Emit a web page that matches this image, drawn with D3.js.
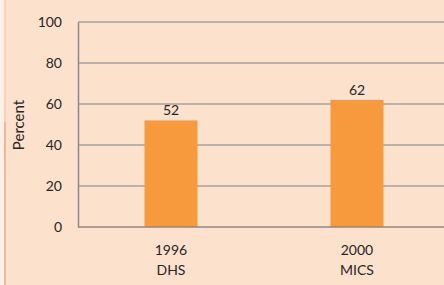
<!DOCTYPE html>
<html>
<head>
<meta charset="utf-8">
<script src="https://cdn.jsdelivr.net/npm/d3@7"></script>
<style>
  body { margin: 0; background: #fff; }
  svg { display: block; font-family: Lato, "Open Sans", sans-serif; }
</style>
</head>
<body>
<svg id="chart" width="444" height="285"></svg>
<script>
// chart data
const years = ["1996", "2000"];
const surveys = ["DHS", "MICS"];
const values = [52, 62];
const yTicks = [0, 20, 40, 60, 80, 100];

const width = 444, height = 285;
const margin = { top: 22, right: -6, bottom: 58, left: 78 };

const svg = d3.select("#chart");

// background + left edge line
svg.append("rect").attr("width", width).attr("height", height).attr("fill", "#fce1cd");
svg.append("rect").attr("width", 4).attr("height", height).attr("fill", "#fdf0e8");
svg.append("line")
  .attr("x1", 5).attr("x2", 5).attr("y1", 0).attr("y2", 122)
  .attr("stroke", "#f5c6ab").attr("stroke-width", 1.2);
svg.append("line")
  .attr("x1", 5).attr("x2", 5).attr("y1", 122).attr("y2", height)
  .attr("stroke", "#ec9c70").attr("stroke-width", 1.2);

const x = d3.scaleBand()
  .domain(years)
  .range([margin.left, width - margin.right])
  .paddingInner(0.715)
  .paddingOuter(0.3575);

const y = d3.scaleLinear()
  .domain([0, 100])
  .range([height - margin.bottom, margin.top]);

// gridlines
svg.append("g")
  .selectAll("line")
  .data(yTicks.filter(d => d > 0))
  .join("line")
  .attr("x1", margin.left).attr("x2", width)
  .attr("y1", d => y(d)).attr("y2", d => y(d))
  .attr("stroke", "#a6a19d").attr("stroke-width", 1.5);

// y axis
const yAxis = svg.append("g")
  .attr("transform", `translate(${margin.left},0)`)
  .call(d3.axisLeft(y).tickValues(yTicks).tickSize(0).tickPadding(16));
yAxis.select(".domain").attr("stroke", "#8d8985").attr("stroke-width", 1.5);
yAxis.selectAll("text").attr("font-size", 14).attr("fill", "#262626").attr("font-family", "Lato, sans-serif");

svg.append("text")
  .attr("transform", `translate(24,${125}) rotate(-90)`)
  .attr("text-anchor", "middle")
  .attr("font-size", 15)
  .attr("fill", "#262626")
  .text("Percent");

// bars
svg.append("g")
  .selectAll("rect")
  .data(values)
  .join("rect")
  .attr("x", (d, i) => x(years[i]))
  .attr("y", d => y(d))
  .attr("width", x.bandwidth())
  .attr("height", d => y(0) - y(d))
  .attr("fill", "#f79a3e");

// value labels
svg.append("g")
  .selectAll("text")
  .data(values)
  .join("text")
  .attr("x", (d, i) => x(years[i]) + x.bandwidth() / 2)
  .attr("y", d => y(d) - 5)
  .attr("text-anchor", "middle")
  .attr("font-size", 14)
  .attr("fill", "#262626")
  .text(d => d);

// x baseline
svg.append("line")
  .attr("x1", margin.left).attr("x2", width)
  .attr("y1", y(0)).attr("y2", y(0))
  .attr("stroke", "#8d8985").attr("stroke-width", 1.5);

// category labels
const cats = svg.append("g")
  .selectAll("text")
  .data(years)
  .join("text")
  .attr("text-anchor", "middle")
  .attr("font-size", 14)
  .attr("fill", "#262626");
cats.append("tspan").attr("y", 255).attr("x", d => x(d) + x.bandwidth() / 2).text(d => d);
cats.append("tspan").attr("y", 275).attr("x", d => x(d) + x.bandwidth() / 2).text((d, i) => surveys[i]);
</script>
</body>
</html>
